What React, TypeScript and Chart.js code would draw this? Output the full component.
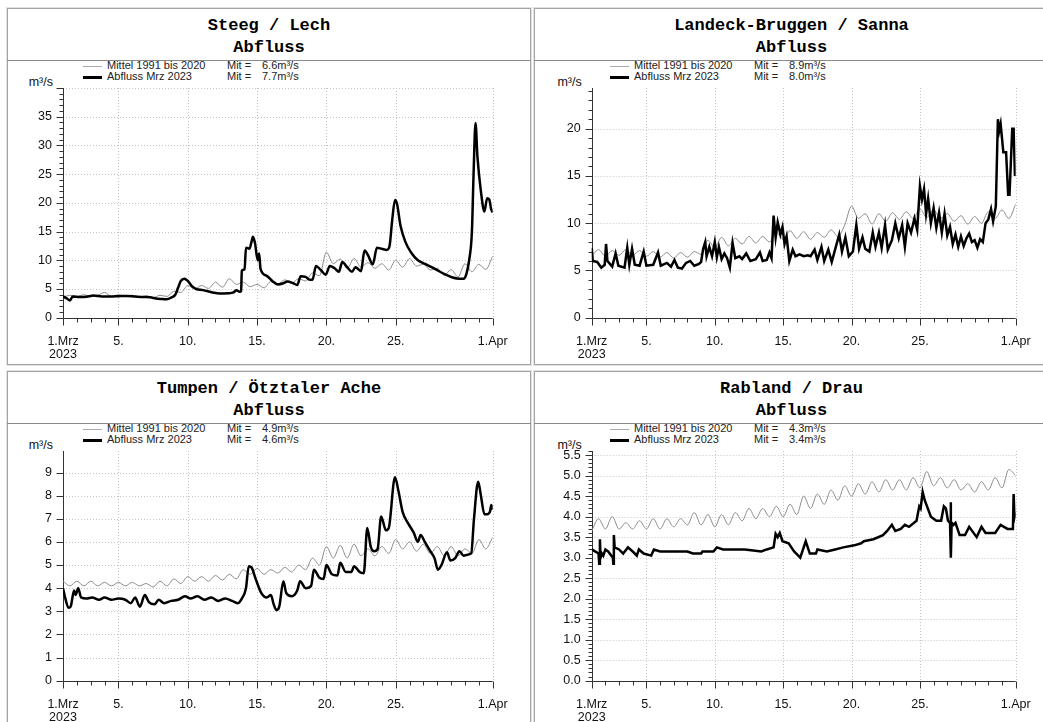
import React, { useEffect, useRef } from 'react';
import { Chart, registerables } from 'chart.js';

Chart.register(...registerables);

// ---------- DATA ----------
// x axis: days since 1. März 2023 00:00 (0 .. 31 = 1. April)
const xTickDays = [0, 4, 9, 14, 19, 24, 31];
const xTickTexts: (string | string[])[] = [['1.Mrz', '2023'], '5.', '10.', '15.', '20.', '25.', '1.Apr'];

const titles = ['Steeg / Lech', 'Landeck-Bruggen / Sanna', 'Tumpen / Ötztaler Ache', 'Rabland / Drau'];
const subTitle = 'Abfluss';
const legendMeanLabel = 'Mittel 1991 bis 2020';
const legendFlowLabel = 'Abfluss Mrz 2023';
const meanOfMean = ['6.6', '8.9', '4.9', '4.3'];
const meanOfFlow = ['7.7', '8.0', '4.6', '3.4'];
const unitLabel = 'm³/s';

// Mittel 1991-2020, values every half day (day 0, 0.5, 1 ... 31)
const steegMean = [3.6, 3.9, 3.7, 4.0, 3.7, 3.9, 4.4, 3.7, 4.0, 3.7, 3.9, 3.6, 3.8, 3.5, 3.9, 3.7,
  4.6, 4.4, 5.6, 5.0, 5.6, 5.1, 6.2, 5.3, 6.8, 5.8, 6.2, 5.4, 5.8, 5.2, 6.3, 5.8, 6.6, 6.0, 6.8, 6.4,
  7.8, 7.3, 11.4, 9.4, 10.2, 8.6, 10.3, 8.8, 9.6, 8.6, 9.4, 8.3, 10.0, 8.8, 10.3, 9.0, 9.3, 8.3, 8.6,
  7.4, 8.4, 7.1, 9.4, 8.0, 9.3, 8.4, 10.7];
const landeckMean = [6.5, 7.2, 6.5, 7.1, 6.6, 7.2, 6.6, 7.1, 6.5, 7.0, 6.4, 6.9, 6.3, 6.9, 6.4, 7.0,
  6.7, 8.2, 7.4, 8.5, 7.6, 8.4, 7.8, 8.6, 7.9, 8.6, 8.0, 9.0, 8.3, 9.2, 8.4, 9.1, 8.3, 9.0, 8.5, 9.3,
  8.6, 9.8, 11.8, 10.5, 11.0, 9.9, 11.0, 10.2, 11.1, 10.4, 11.2, 10.5, 11.5, 10.6, 11.4, 10.5, 11.0,
  10.2, 10.8, 9.9, 10.7, 10.0, 11.2, 10.5, 11.4, 10.5, 12.0];
const tumpenMean = [4.3, 4.1, 4.3, 4.1, 4.3, 4.1, 4.25, 4.1, 4.25, 4.1, 4.25, 4.1, 4.2, 4.05, 4.3, 4.1,
  4.4, 4.2, 4.5, 4.3, 4.5, 4.3, 4.55, 4.35, 4.6, 4.4, 4.8, 4.6, 4.85, 4.6, 4.8, 4.65, 4.9, 4.7, 5.0,
  4.8, 5.3, 5.0, 5.8, 5.3, 5.85, 5.3, 5.9, 5.4, 5.7, 5.4, 5.8, 5.5, 6.1, 5.7, 6.0, 5.6, 5.9, 5.5, 5.8,
  5.4, 5.8, 5.4, 5.7, 5.5, 6.1, 5.7, 6.2];
const rablandMean = [3.65, 3.95, 3.7, 4.0, 3.7, 3.85, 3.7, 3.9, 3.7, 3.95, 3.7, 3.95, 3.75, 3.95, 3.8,
  4.1, 3.8, 4.05, 3.75, 4.05, 3.8, 4.1, 3.9, 4.2, 3.95, 4.2, 4.0, 4.25, 4.0, 4.3, 4.05, 4.5, 4.2, 4.55,
  4.3, 4.65, 4.4, 4.75, 4.5, 4.8, 4.55, 4.85, 4.6, 4.9, 4.65, 4.9, 4.65, 4.95, 4.7, 5.1, 4.75, 4.95,
  4.7, 4.9, 4.65, 4.8, 4.6, 4.85, 4.65, 4.95, 4.7, 5.15, 5.0];

// Abfluss März 2023: [day, m³/s]
const steegFlow: [number, number][] = [[0, 3.7], [0.25, 3.4], [0.5, 3.0], [0.7, 3.7], [1.2, 3.6], [1.7, 3.65],
  [2.2, 3.85], [2.8, 3.7], [3.4, 3.7], [4.0, 3.75], [4.6, 3.8], [5.2, 3.7], [5.8, 3.6], [6.3, 3.55],
  [6.7, 3.35], [7.2, 3.25], [7.5, 3.2], [7.8, 3.5], [8.1, 4.0], [8.3, 5.2], [8.5, 6.4], [8.75, 6.8],
  [9.0, 6.4], [9.3, 5.5], [9.6, 5.0], [10.1, 4.8], [10.8, 4.4], [11.3, 4.2], [11.9, 4.25], [12.3, 4.4],
  [12.5, 4.8], [12.75, 4.5], [12.85, 4.6], [12.9, 8.2], [13.1, 8.4], [13.2, 12.2], [13.45, 12.0],
  [13.6, 13.2], [13.7, 14.1], [13.85, 13.0], [14.05, 10.0], [14.15, 11.2], [14.25, 8.5], [14.7, 7.3],
  [15.1, 6.4], [15.5, 5.8], [15.9, 6.0], [16.2, 6.3], [16.6, 6.0], [16.9, 5.7], [17.15, 7.2], [17.5, 7.1],
  [17.8, 6.6], [18.0, 6.6], [18.25, 9.0], [18.6, 8.3], [18.95, 7.5], [19.25, 9.0], [19.6, 8.6], [19.9, 8.0],
  [20.15, 9.7], [20.5, 8.8], [20.85, 8.0], [21.1, 8.8], [21.5, 8.1], [21.75, 11.7], [22.0, 10.9],
  [22.35, 9.3], [22.65, 12.2], [23.0, 12.0], [23.35, 11.8], [23.55, 12.4], [23.75, 17.0], [23.95, 20.5],
  [24.1, 19.8], [24.35, 16.0], [24.7, 13.2], [25.1, 11.4], [25.6, 10.0], [26.2, 9.3], [26.9, 8.4],
  [27.6, 7.5], [28.1, 7.0], [28.6, 6.8], [28.9, 6.8], [29.1, 7.6], [29.3, 10.0], [29.5, 15.0],
  [29.62, 25.0], [29.76, 33.9], [29.9, 28.0], [30.15, 22.0], [30.4, 18.5], [30.6, 20.8], [30.75, 20.6],
  [30.88, 19.0], [31.0, 18.3]];
const landeckFlow: [number, number][] = [[0, 7.4], [0.08, 6.0], [0.4, 5.9], [0.7, 5.3], [0.95, 5.6], [1.05, 7.8],
  [1.15, 6.0], [1.5, 5.4], [1.75, 6.8], [1.95, 5.5], [2.4, 5.3], [2.6, 7.4], [2.75, 5.6], [2.95, 7.3],
  [3.15, 5.6], [3.5, 5.5], [3.8, 7.0], [4.0, 5.5], [4.5, 5.6], [4.85, 6.9], [5.05, 5.5], [5.5, 5.8],
  [5.8, 5.4], [6.05, 6.1], [6.3, 5.3], [6.6, 5.2], [6.9, 5.8], [7.2, 6.0], [7.5, 5.5], [7.85, 5.7],
  [8.0, 5.9], [8.15, 7.3], [8.3, 8.0], [8.4, 6.5], [8.6, 7.5], [8.8, 6.5], [9.0, 8.0], [9.15, 6.4],
  [9.3, 7.5], [9.5, 6.2], [9.7, 6.8], [9.9, 6.3], [10.1, 5.3], [10.3, 7.9], [10.5, 6.3], [10.8, 6.5],
  [11.0, 6.2], [11.3, 6.8], [11.6, 6.0], [12.0, 6.2], [12.3, 6.9], [12.5, 6.0], [12.8, 6.1], [13.0, 6.9],
  [13.15, 6.3], [13.3, 10.8], [13.45, 8.5], [13.6, 10.1], [13.8, 8.8], [13.95, 9.6], [14.1, 7.8],
  [14.25, 8.6], [14.45, 6.0], [14.7, 7.2], [14.9, 6.5], [15.2, 6.7], [15.5, 6.5], [15.8, 6.6], [16.0, 6.5],
  [16.3, 7.2], [16.5, 6.1], [16.8, 7.5], [17.0, 6.0], [17.3, 7.2], [17.55, 5.9], [17.85, 7.5], [18.1, 8.8],
  [18.3, 7.0], [18.55, 8.5], [18.8, 6.5], [19.1, 7.0], [19.35, 9.8], [19.55, 7.3], [19.8, 8.5], [20.0, 7.3],
  [20.3, 7.0], [20.55, 9.0], [20.75, 7.5], [21.0, 9.0], [21.2, 7.4], [21.45, 9.8], [21.65, 7.2],
  [21.95, 8.2], [22.2, 10.0], [22.45, 8.4], [22.7, 9.8], [22.9, 7.5], [23.1, 10.0], [23.35, 9.0],
  [23.6, 10.5], [23.8, 9.3], [24.0, 13.9], [24.15, 12.5], [24.3, 13.6], [24.45, 11.0], [24.6, 12.6],
  [24.8, 10.0], [25.0, 11.6], [25.2, 9.5], [25.4, 11.1], [25.6, 9.0], [25.8, 11.0], [26.0, 8.7],
  [26.2, 9.6], [26.4, 7.8], [26.6, 8.8], [26.8, 7.5], [27.0, 8.6], [27.2, 7.6], [27.4, 8.4], [27.6, 8.9],
  [27.8, 8.0], [28.0, 8.2], [28.2, 7.4], [28.4, 8.3], [28.6, 8.0], [28.8, 10.0], [29.0, 10.4],
  [29.2, 11.5], [29.35, 10.2], [29.55, 11.8], [29.7, 21.0], [29.8, 19.8], [29.9, 20.5], [30.0, 19.0],
  [30.1, 17.5], [30.3, 17.5], [30.45, 13.0], [30.55, 13.0], [30.65, 16.5], [30.75, 20.0], [30.85, 20.0],
  [30.95, 15.0], [31.0, 15.5]];
const tumpenFlow: [number, number][] = [[0, 4.0], [0.15, 3.6], [0.4, 3.15], [0.55, 3.2], [0.8, 3.9], [0.9, 3.7],
  [1.1, 4.0], [1.3, 3.6], [1.7, 3.55], [2.1, 3.6], [2.6, 3.5], [3.0, 3.6], [3.5, 3.5], [4.0, 3.55],
  [4.5, 3.5], [4.9, 3.35], [5.2, 3.6], [5.55, 3.2], [5.9, 3.7], [6.2, 3.4], [6.6, 3.3], [6.9, 3.5],
  [7.3, 3.35], [7.8, 3.45], [8.3, 3.5], [8.8, 3.65], [9.2, 3.55], [9.7, 3.65], [10.2, 3.5], [10.7, 3.6],
  [11.2, 3.45], [11.7, 3.55], [12.2, 3.45], [12.6, 3.35], [12.9, 3.55], [13.2, 4.0], [13.4, 4.95],
  [13.6, 4.9], [13.9, 4.4], [14.3, 3.8], [14.7, 3.6], [15.0, 3.7], [15.2, 3.3], [15.4, 3.05], [15.6, 3.2],
  [15.9, 4.3], [16.1, 3.8], [16.5, 3.65], [16.9, 3.9], [17.1, 4.3], [17.5, 4.0], [17.9, 4.1], [18.1, 4.8],
  [18.5, 4.45], [18.8, 4.4], [19.0, 5.0], [19.4, 4.6], [19.8, 4.55], [20.0, 5.1], [20.4, 4.7], [20.8, 4.7],
  [21.0, 4.95], [21.4, 4.7], [21.7, 4.65], [21.95, 6.6], [22.2, 5.8], [22.45, 5.6], [22.7, 5.7],
  [22.95, 7.1], [23.3, 6.5], [23.5, 6.6], [23.95, 8.8], [24.2, 8.2], [24.5, 7.3], [24.9, 6.8], [25.3, 6.4],
  [25.6, 6.0], [25.8, 6.3], [26.1, 6.0], [26.5, 5.6], [26.8, 5.3], [27.05, 4.8], [27.3, 5.0], [27.7, 5.55],
  [27.95, 5.2], [28.3, 5.3], [28.6, 5.6], [28.9, 5.4], [29.2, 5.45], [29.45, 5.5], [29.65, 7.0],
  [29.95, 8.6], [30.15, 8.0], [30.4, 7.2], [30.6, 7.2], [30.8, 7.3], [30.9, 7.6], [31.0, 7.4]];
const rablandFlow: [number, number][] = [[0, 3.2], [0.5, 3.1], [0.55, 2.85], [0.6, 3.45], [0.65, 3.0], [0.75, 3.1],
  [0.85, 3.05], [1.0, 3.2], [1.2, 3.15], [1.55, 3.0], [1.58, 2.85], [1.62, 3.55], [1.68, 3.25], [2.0, 3.2],
  [2.3, 3.1], [2.65, 3.25], [3.0, 3.15], [3.3, 3.05], [3.45, 3.2], [3.8, 3.1], [4.35, 3.05], [4.55, 3.2],
  [5.0, 3.15], [6.0, 3.15], [7.0, 3.15], [7.4, 3.1], [8.0, 3.1], [8.1, 3.15], [8.9, 3.15], [9.15, 3.25],
  [9.6, 3.2], [10.5, 3.2], [11.2, 3.2], [12.4, 3.15], [12.8, 3.2], [13.3, 3.25], [13.45, 3.58],
  [13.6, 3.5], [13.75, 3.6], [13.95, 3.4], [14.4, 3.35], [14.8, 3.15], [15.25, 3.0], [15.5, 3.25],
  [15.65, 3.4], [15.95, 3.1], [16.4, 3.1], [16.5, 3.2], [17.2, 3.15], [17.8, 3.2], [18.4, 3.25],
  [19.2, 3.3], [19.7, 3.35], [19.9, 3.4], [20.6, 3.45], [21.3, 3.55], [21.6, 3.65], [21.95, 3.8],
  [22.2, 3.65], [22.6, 3.7], [22.9, 3.8], [23.2, 3.75], [23.75, 3.9], [23.95, 4.25], [24.05, 4.2],
  [24.2, 4.6], [24.35, 4.4], [24.8, 4.0], [25.2, 3.9], [25.55, 3.9], [25.75, 4.25], [25.9, 4.2],
  [26.05, 3.9], [26.2, 3.85], [26.25, 4.35], [26.27, 3.0], [26.32, 3.85], [26.45, 3.8], [26.6, 3.85],
  [26.9, 3.55], [27.3, 3.55], [27.6, 3.75], [28.15, 3.5], [28.5, 3.75], [28.8, 3.6], [29.5, 3.6],
  [29.9, 3.8], [30.4, 3.7], [30.8, 3.7], [30.85, 4.55], [30.93, 4.0], [31.0, 4.1]];

// y axis settings per panel: max, minor step, major step, highest labelled value, decimals
const yMaxes = [40, 24.3, 9.93, 5.6];
const yMinorSteps = [1, 1, 1, 0.1];
const yMajorSteps = [5, 5, 1, 0.5];
const yLabelTops = [35, 20, 9, 5.5];
const yDecimals = [0, 0, 0, 1];

// ---------- LAYOUT ----------
const FONT_SANS = '"Liberation Sans", Arial, Helvetica, sans-serif';
const FONT_MONO = '"Liberation Mono", "Courier New", monospace';

const colLeft = [7, 534];
const colWidth = [524, 515];
const colAxisX = [63, 591.7];
const colRightX = [492.7, 1020];
const rowTop = [8, 371];
const rowHeight = [357, 400];

const isMajor = (v: number, step: number) => Math.abs(v / step - Math.round(v / step)) < 1e-6;

type PanelProps = { idx: number };

function Panel({ idx }: PanelProps) {
  const ref = useRef<HTMLCanvasElement>(null);
  const col = idx % 2;
  const row = Math.floor(idx / 2);
  const L = colLeft[col];
  const T = rowTop[row];
  const W = colWidth[col];
  const H = rowHeight[row];
  const canvasLeft = L + 1;
  const canvasTop = T + 53;
  const canvasW = W - 2;
  const canvasH = 302;
  const axisX = colAxisX[col];
  const rightX = colRightX[col];
  const chartTop = T + 80;
  const chartBottom = T + 309.7;

  const means = [steegMean, landeckMean, tumpenMean, rablandMean];
  const flows = [steegFlow, landeckFlow, tumpenFlow, rablandFlow];
  const smooth = [true, false, true, false];

  useEffect(() => {
    const canvas = ref.current;
    if (!canvas) return;
    const yMajor = yMajorSteps[idx];
    const yAxisW = axisX - canvasLeft;
    const padRight = canvasLeft + canvasW - rightX;
    const padTop = chartTop - canvasTop;
    const xAxisH = canvasTop + canvasH - chartBottom;

    const axesPlugin = {
      id: 'hydroAxes' + idx,
      beforeDatasetsDraw(chart: any) {
        const { ctx, chartArea: a } = chart;
        const xs = chart.scales.x;
        const ys = chart.scales.y;
        ctx.save();
        ctx.lineWidth = 1;
        ctx.strokeStyle = '#c4c4c4';
        ctx.setLineDash([1, 2]);
        ctx.beginPath();
        for (const d of xTickDays) {
          if (d === 0) continue;
          const px = Math.round(xs.getPixelForValue(d)) + 0.5;
          ctx.moveTo(px, a.top);
          ctx.lineTo(px, a.bottom);
        }
        for (const t of ys.ticks) {
          if (t.value === 0 || !isMajor(t.value, yMajor)) continue;
          const py = Math.round(ys.getPixelForValue(t.value)) + 0.5;
          ctx.moveTo(a.left, py);
          ctx.lineTo(a.right, py);
        }
        ctx.stroke();
        ctx.setLineDash([]);
        ctx.strokeStyle = '#333';
        ctx.beginPath();
        const ax = Math.round(a.left) + 0.5;
        const ay = Math.round(a.bottom) + 0.5;
        ctx.moveTo(ax, a.top);
        ctx.lineTo(ax, ay);
        ctx.lineTo(a.right, ay);
        for (const t of ys.ticks) {
          const len = isMajor(t.value, yMajor) ? 7 : 4;
          const py = Math.round(ys.getPixelForValue(t.value)) + 0.5;
          ctx.moveTo(ax - len, py);
          ctx.lineTo(ax, py);
        }
        for (const t of xs.ticks) {
          const len = xTickDays.indexOf(t.value) >= 0 ? 7 : 4;
          const px = Math.round(xs.getPixelForValue(t.value)) + 0.5;
          ctx.moveTo(px, ay);
          ctx.lineTo(px, ay + len);
        }
        ctx.stroke();
        ctx.restore();
      },
    };

    const chart = new Chart(canvas, {
      type: 'line',
      data: {
        datasets: [
          {
            label: legendFlowLabel,
            data: flows[idx].map(([x, y]) => ({ x, y })),
            borderColor: '#000',
            borderWidth: 2.5,
            pointRadius: 0,
            fill: false,
            tension: 0,
            cubicInterpolationMode: smooth[idx] ? 'monotone' : 'default',
          },
          {
            label: legendMeanLabel,
            data: means[idx].map((y, i) => ({ x: i / 2, y })),
            borderColor: '#8c8c8c',
            borderWidth: 1,
            pointRadius: 0,
            fill: false,
            cubicInterpolationMode: 'monotone',
          },
        ],
      },
      options: {
        responsive: false,
        animation: false,
        devicePixelRatio: 1,
        events: [],
        plugins: { legend: { display: false }, tooltip: { enabled: false }, title: { display: false } },
        layout: { padding: { left: 0, top: padTop, right: padRight, bottom: 0 } },
        scales: {
          x: {
            type: 'linear',
            min: 0,
            max: 31,
            afterFit: (s: any) => { s.height = xAxisH; },
            grid: { display: false, drawTicks: false },
            border: { display: false },
            ticks: {
              stepSize: 1,
              maxTicksLimit: 1000,
              autoSkip: false,
              maxRotation: 0,
              minRotation: 0,
              includeBounds: false,
              padding: 17.4,
              color: '#111',
              font: { family: FONT_SANS, size: 12.5, lineHeight: 1.05 },
              callback: (v: any) => {
                const i = xTickDays.indexOf(Number(v));
                return i >= 0 ? xTickTexts[i] : '';
              },
            },
          },
          y: {
            type: 'linear',
            min: 0,
            max: yMaxes[idx],
            afterFit: (s: any) => { s.width = yAxisW; },
            grid: { display: false, drawTicks: false },
            border: { display: false },
            ticks: {
              stepSize: yMinorSteps[idx],
              maxTicksLimit: 1000,
              autoSkip: false,
              includeBounds: false,
              padding: 11,
              color: '#111',
              font: { family: FONT_SANS, size: 12.5 },
              callback: (v: any) => {
                const n = Number(v);
                if (!isMajor(n, yMajor) || n > yLabelTops[idx] + 1e-9) return '';
                return n.toFixed(yDecimals[idx]);
              },
            },
          },
        },
      } as any,
      plugins: [axesPlugin],
    });
    return () => chart.destroy();
  }, []);

  const abs = (left: number, top: number, extra: React.CSSProperties = {}): React.CSSProperties => ({
    position: 'absolute', left, top, ...extra,
  });
  const legendText: React.CSSProperties = {
    fontFamily: FONT_SANS, fontSize: 11, lineHeight: '11px', color: '#222', whiteSpace: 'nowrap',
  };

  return (
    <>
      <div style={abs(L, T, { width: W, height: H, border: '1px solid #a4a4a4', boxSizing: 'border-box', boxShadow: '0 0 0 1px #e2e2e2' })} />
      <div style={abs(L, T + 52, { width: W, height: 1, background: '#8a8a8a' })} />
      <div style={abs(L, T + 8, { width: W, height: 20, lineHeight: '20px', textAlign: 'center', fontFamily: FONT_MONO, fontWeight: 'bold', fontSize: 17, color: '#000' })}>{titles[idx]}</div>
      <div style={abs(L, T + 30, { width: W, height: 20, lineHeight: '20px', textAlign: 'center', fontFamily: FONT_MONO, fontWeight: 'bold', fontSize: 17, color: '#000' })}>{subTitle}</div>
      <div style={abs(L + 76, T + 57.5, { width: 19, height: 1, background: '#aaa' })} />
      <div style={abs(L + 76, T + 67.5, { width: 19, height: 3, background: '#000' })} />
      <div style={abs(L + 100, T + 52.2, legendText)}>{legendMeanLabel}</div>
      <div style={abs(L + 100, T + 63.2, legendText)}>{legendFlowLabel}</div>
      <div style={abs(L + 220, T + 52.2, legendText)}>Mit =</div>
      <div style={abs(L + 220, T + 63.2, legendText)}>Mit =</div>
      <div style={abs(L + 255, T + 52.2, legendText)}>{meanOfMean[idx]}m³/s</div>
      <div style={abs(L + 255, T + 63.2, legendText)}>{meanOfFlow[idx]}m³/s</div>
      <div style={abs(axisX - 10 - 40, T + 67, { width: 40, height: 14, lineHeight: '14px', textAlign: 'right', fontFamily: FONT_SANS, fontSize: 12.5, color: '#111' })}>{unitLabel}</div>
      <canvas ref={ref} width={canvasW} height={canvasH} style={abs(canvasLeft, canvasTop, { width: canvasW, height: canvasH, display: 'block' })} />
    </>
  );
}

export default function App() {
  return (
    <div style={{ position: 'absolute', left: 0, top: 0, width: 1043, height: 722, overflow: 'hidden', background: '#fff' }}>
      {[0, 1, 2, 3].map((i) => <Panel key={i} idx={i} />)}
    </div>
  );
}
